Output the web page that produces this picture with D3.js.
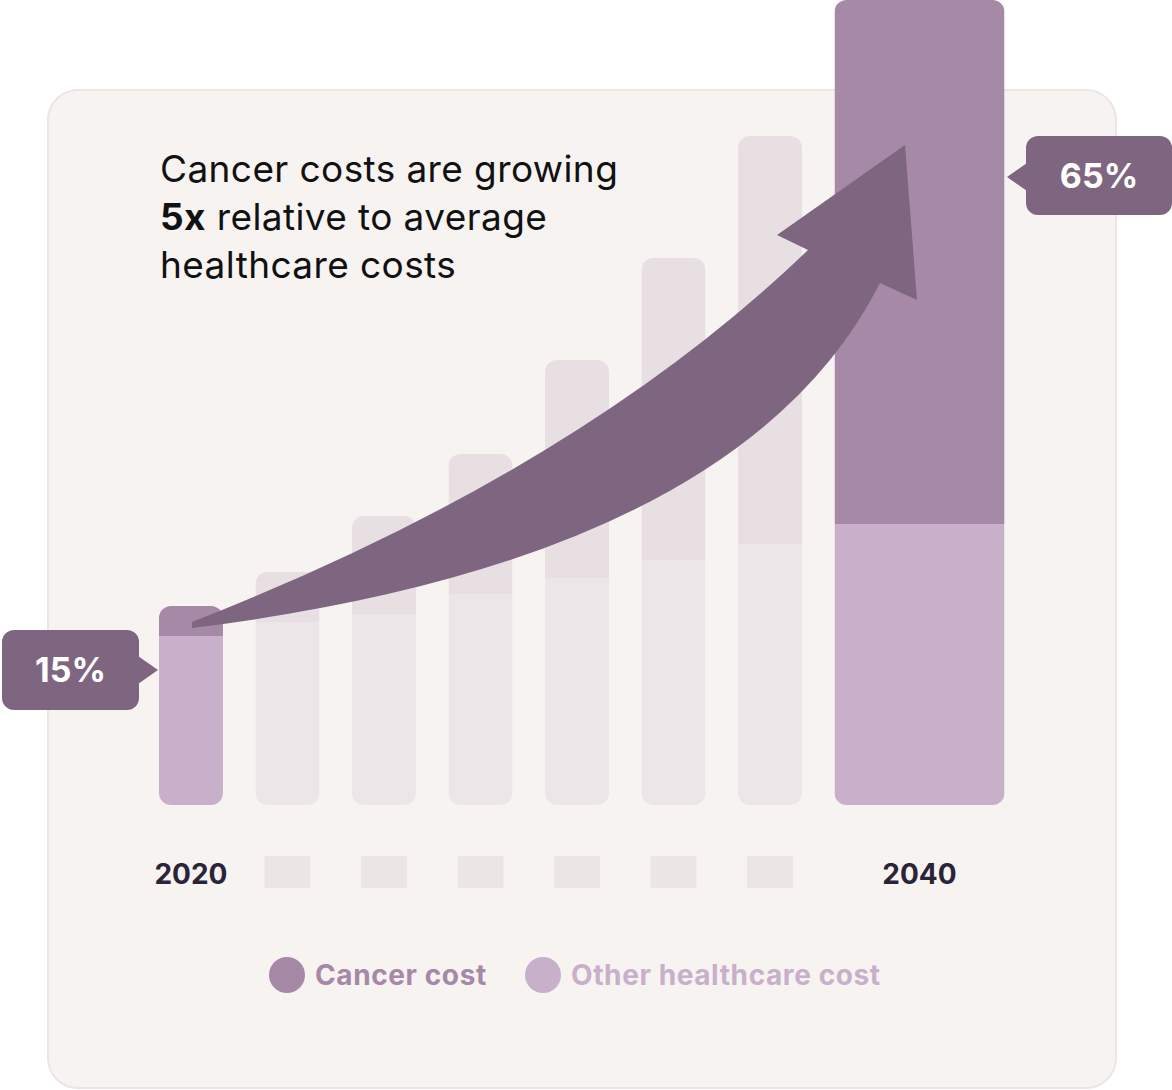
<!DOCTYPE html>
<html><head><meta charset="utf-8">
<script src="https://cdn.jsdelivr.net/npm/d3@7"></script>
<style>body{margin:0;background:#fff}svg{display:block;font-family:Inter,"Open Sans",sans-serif}</style>
</head><body><div id="chart"></div>
<script>
const years = ['2020','2025','2027','2029','2031','2033','2036','2040'];
const yearLabels = ['2020','','','','','','','2040'];
const cancerValues = [30,50,98,140,218,302,408,524];
const otherValues = [169,183,191,211,227,245,261,281];
const calloutLabels = ['15%','65%'];
const legendItems = ['Cancer cost','Other healthcare cost'];

const W = 1172, H = 1090;
const svg = d3.select('#chart').append('svg').attr('width', W).attr('height', H);

svg.append('rect').attr('x',48).attr('y',90).attr('width',1068).attr('height',998)
  .attr('rx',30).attr('fill','#f7f3f1').attr('stroke','#ebe6e6').attr('stroke-width',2);

const x = d3.scaleBand().domain(years).range([159, 898.5]).paddingInner(0.337).paddingOuter(0);
const y = d3.scaleLinear().domain([0, 805]).range([805, 0]);
const last = years.length - 1;
const bw = (i)=> i===last ? 170 : x.bandwidth();

const defs = svg.append('defs');
years.forEach((yr,i)=>{
  defs.append('clipPath').attr('id','c'+i).append('rect')
    .attr('x',x(yr)).attr('y',y(cancerValues[i]+otherValues[i]))
    .attr('width',bw(i)).attr('height',y(0)-y(cancerValues[i]+otherValues[i])).attr('rx',12);
});

const bars = svg.append('g').selectAll('g').data(years).join('g')
  .attr('clip-path',(d,i)=>`url(#c${i})`);
bars.append('rect').attr('x',d=>x(d)).attr('width',(d,i)=>bw(i))
  .attr('y',(d,i)=>y(otherValues[i])).attr('height',(d,i)=>y(0)-y(otherValues[i]))
  .attr('fill',(d,i)=> (i===0||i===last) ? '#c9b0ca' : '#ede6e8');
bars.append('rect').attr('x',d=>x(d)).attr('width',(d,i)=>bw(i))
  .attr('y',(d,i)=>y(otherValues[i]+cancerValues[i])).attr('height',(d,i)=>y(0)-y(cancerValues[i]))
  .attr('fill',(d,i)=> (i===0||i===last) ? '#a589a6' : '#e8dfe3');

// year labels / placeholders
years.forEach((yr,i)=>{
  const cx = x(yr) + bw(i)/2;
  if (yearLabels[i]) {
    svg.append('text').attr('x',cx).attr('y',884).attr('text-anchor','middle')
      .attr('font-size',28).attr('font-weight',700).attr('fill','#2a2438').text(yearLabels[i]);
  } else {
    svg.append('rect').attr('x',cx-23).attr('y',856).attr('width',46).attr('height',32).attr('fill','#ebe5e3');
  }
});

// arrow
svg.append('path').attr('fill','#7f6680').attr('d',
  'M192,628 Q740,560 880,283 L917,300 L905,145 L777,235 L808,250 Q580,470 192,622 Z');

// title
const t = svg.append('text').attr('x',160).attr('font-size',37).attr('fill','#111').attr('letter-spacing',0.4);
t.append('tspan').attr('x',160).attr('y',182).text('Cancer costs are growing');
const l2 = t.append('tspan').attr('x',160).attr('y',230);
l2.append('tspan').attr('font-weight',700).text('5x');
l2.append('tspan').text(' relative to average');
t.append('tspan').attr('x',160).attr('y',278).text('healthcare costs');

// callouts
function callout(bx,by,w,h,tipX,tipY,side,label){
  const g = svg.append('g');
  g.append('rect').attr('x',bx).attr('y',by).attr('width',w).attr('height',h).attr('rx',12).attr('fill','#7f6680');
  const ex = side==='right' ? bx+w-1 : bx+1;
  g.append('path').attr('fill','#7f6680').attr('d',`M${ex},${tipY-14} L${tipX},${tipY} L${ex},${tipY+14} Z`);
  g.append('text').attr('x',bx+w/2).attr('y',by+h/2+12).attr('text-anchor','middle')
    .attr('font-size',34).attr('font-weight',700).attr('fill','#fff').text(label);
}
callout(2,630,137,80,158,670,'right',calloutLabels[0]);
callout(1026,136,146,79,1007,177,'left',calloutLabels[1]);

// legend
const legColors = ['#a589a6','#c9b0ca'];
const legX = [287,543];
legendItems.forEach((d,i)=>{
  svg.append('circle').attr('cx',legX[i]).attr('cy',975).attr('r',18).attr('fill',legColors[i]);
  svg.append('text').attr('x',legX[i]+28).attr('y',985).attr('font-size',28).attr('font-weight',700)
    .attr('letter-spacing',0.6).attr('fill',legColors[i]).text(d);
});
</script></body></html>
